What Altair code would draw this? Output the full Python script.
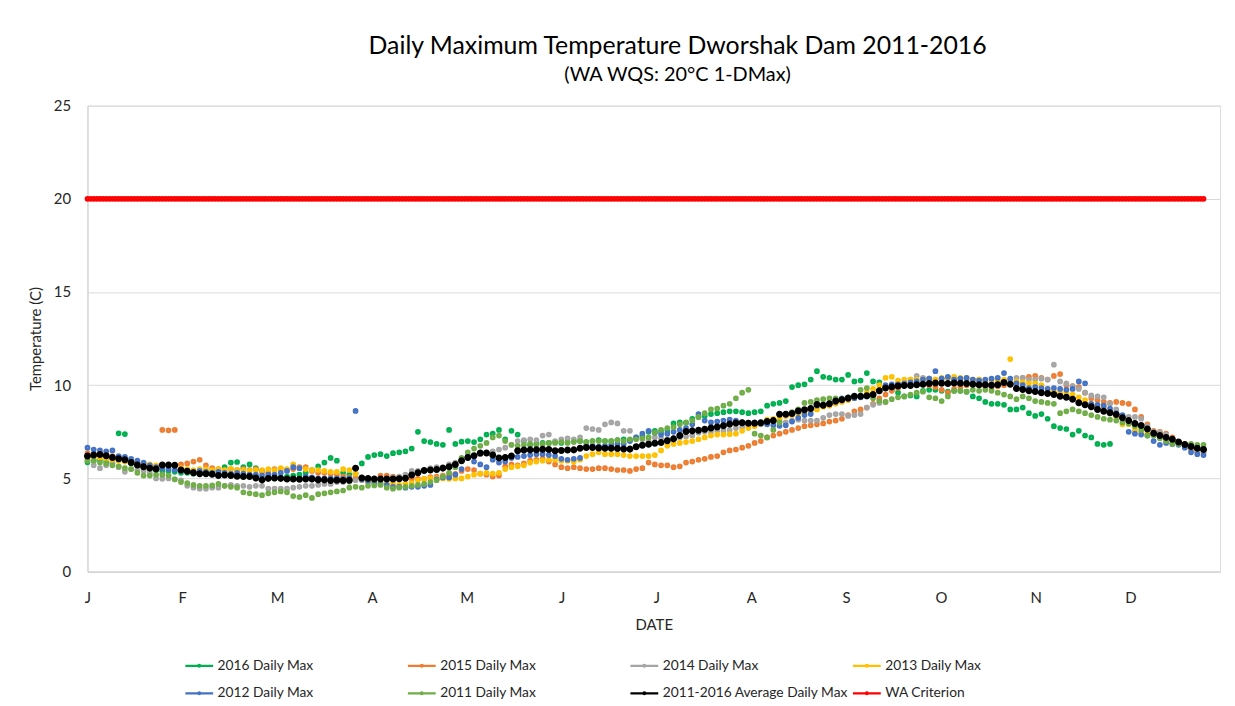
import altair as alt
import pandas as pd

# ---------------- data (every 2nd day) ----------------
DAYS = list(range(0, 360, 2))            # day of year index (0 = Jan 1)
WA_DAYS = list(range(0, 359))            # criterion drawn every day
WA_VALUE = 20.0
MONTH_LABELS = ["J", "F", "M", "A", "M", "J", "J", "A", "S", "O", "N", "D"]
MONTH_DAYS = [0, 30.42, 60.83, 91.25, 121.67, 152.08, 182.5, 212.92, 243.33, 273.75, 304.17, 334.58]

AVG = [
    6.20, 6.25, 6.28, 6.22, 6.12, 6.05, 6.00, 5.85, 5.72, 5.63, 5.55, 5.50, 5.72, 5.72, 5.70,
    5.45, 5.38, 5.30, 5.25, 5.25, 5.22, 5.15, 5.18, 5.15, 5.12, 5.10, 5.10, 5.02, 4.92, 5.00,
    5.02, 5.00, 4.97, 4.97, 4.95, 4.97, 4.97, 4.92, 4.92, 4.89, 4.90, 4.89, 4.90, 5.55, 5.02,
    5.00, 4.97, 4.97, 4.97, 4.97, 4.98, 5.01, 5.18, 5.30, 5.42, 5.45, 5.48, 5.55, 5.62, 5.75,
    5.95, 6.12, 6.22, 6.36, 6.36, 6.25, 6.10, 6.12, 6.20, 6.48, 6.52, 6.53, 6.53, 6.56, 6.55,
    6.48, 6.50, 6.52, 6.53, 6.62, 6.66, 6.66, 6.63, 6.62, 6.62, 6.60, 6.58, 6.57, 6.70, 6.78,
    6.83, 6.88, 6.92, 7.02, 7.12, 7.30, 7.52, 7.55, 7.58, 7.64, 7.70, 7.76, 7.82, 7.92, 7.97,
    7.99, 7.96, 7.96, 7.99, 8.05, 8.10, 8.44, 8.44, 8.48, 8.62, 8.68, 8.75, 8.97, 8.92, 9.00,
    9.15, 9.22, 9.30, 9.41, 9.41, 9.43, 9.50, 9.70, 9.85, 9.91, 9.96, 9.98, 9.98, 10.02, 10.05,
    10.09, 10.12, 10.10, 10.09, 10.12, 10.10, 10.09, 10.05, 10.03, 10.03, 10.00, 10.02, 10.15, 10.05, 9.82,
    9.77, 9.70, 9.66, 9.59, 9.56, 9.50, 9.41, 9.35, 9.25, 9.06, 8.95, 8.84, 8.70, 8.60, 8.52,
    8.43, 8.25, 8.10, 7.95, 7.84, 7.65, 7.42, 7.30, 7.20, 7.10, 6.95, 6.82, 6.71, 6.62, 6.55,
]

Y2016 = [
    5.86, 5.95, 6.00, 5.90, 5.85, 7.42, 7.38, 5.80, 5.70, 5.60, 5.50, 5.45, 5.40, 5.40, 5.35,
    5.30, 5.30, 5.25, 5.30, 5.30, 5.35, 5.40, 5.60, 5.85, 5.88, 5.60, 5.75, 5.55, 5.40, 5.05,
    5.00, 5.05, 5.10, 5.15, 5.20, 5.30, 5.45, 5.65, 5.85, 6.10, 5.95, 5.30, 5.20, 5.25, 5.80,
    6.15, 6.25, 6.30, 6.20, 6.35, 6.40, 6.45, 6.60, 7.50, 7.00, 6.95, 6.85, 6.80, 7.60, 6.85,
    6.97, 7.00, 6.95, 7.10, 7.35, 7.40, 7.60, 7.10, 7.55, 7.35, 7.00, 6.80, 6.85, 6.90, 6.90,
    6.95, 6.90, 6.95, 7.00, 7.00, 6.95, 7.00, 7.05, 7.00, 7.00, 7.05, 7.10, 7.05, 7.15, 7.25,
    7.50, 7.55, 7.50, 7.60, 7.95, 8.00, 7.98, 8.20, 8.30, 8.35, 8.45, 8.50, 8.55, 8.60, 8.60,
    8.55, 8.50, 8.55, 8.60, 8.90, 9.00, 9.05, 9.15, 9.90, 10.00, 10.05, 10.30, 10.75, 10.45, 10.40,
    10.30, 10.30, 10.55, 10.20, 10.25, 10.65, 10.20, 10.15, 9.90, 9.75, 9.60, 9.40, 9.45, 9.40, 9.70,
    9.75, 9.75, 9.70, 9.65, 9.70, 9.70, 9.65, 9.40, 9.30, 9.10, 9.00, 9.00, 8.95, 8.70, 8.70,
    8.80, 8.50, 8.35, 8.45, 8.20, 7.80, 7.70, 7.65, 7.35, 7.55, 7.30, 7.20, 6.85, 6.80, 6.85,
    None, None, None, None, None, None, None, None, None, None, None, None, None, None, None,
]

Y2015 = [
    6.35, 6.30, 6.25, 6.30, 6.20, 6.15, 6.05, 5.95, 5.85, 5.75, 5.70, 5.65, 7.60, 7.58, 7.60,
    5.75, 5.80, 5.90, 6.00, 5.70, 5.55, 5.50, 5.45, 5.50, 5.45, 5.50, 5.45, 5.50, 5.35, 5.30,
    5.50, 5.50, 5.45, 5.50, 5.60, 5.60, 5.40, 5.30, 5.30, 5.25, 5.20, 5.10, 5.05, 5.00, 5.00,
    5.00, 4.95, 5.15, 5.15, 5.10, 5.05, 5.00, 5.00, 4.97, 4.97, 5.07, 5.10, 5.15, 5.20, 5.24,
    5.40, 5.50, 5.45, 5.25, 5.20, 5.10, 5.15, 5.65, 5.75, 5.70, 5.80, 5.95, 6.00, 6.05, 5.90,
    5.75, 5.60, 5.55, 5.60, 5.55, 5.50, 5.50, 5.55, 5.55, 5.50, 5.45, 5.45, 5.40, 5.50, 5.55,
    5.85, 5.75, 5.70, 5.70, 5.60, 5.65, 5.85, 5.90, 6.00, 6.05, 6.15, 6.20, 6.40, 6.50, 6.55,
    6.65, 6.75, 6.90, 7.00, 7.20, 7.30, 7.40, 7.50, 7.60, 7.70, 7.80, 7.85, 7.90, 7.95, 8.05,
    8.10, 8.20, 8.40, 8.60, 8.70, 8.80, 9.00, 9.30, 9.50, 9.70, 9.85, 10.00, 10.10, 10.10, 10.05,
    10.00, 9.90, 9.75, 9.60, 9.80, 9.90, 10.00, 10.05, 10.00, 9.95, 9.90, 9.95, 10.00, 10.05, 10.10,
    10.40, 10.45, 10.50, 10.40, 10.30, 10.50, 10.60, 10.00, 9.95, 9.90, 9.60, 9.30, 9.20, 9.10, 9.05,
    9.10, 9.05, 9.00, 8.70, 8.30, 7.90, 7.55, 7.50, 7.40, 7.20, 6.90, 6.70, 6.55, 6.40, 6.40,
]

Y2014 = [
    6.00, 5.70, 5.55, 5.70, 5.80, 5.60, 5.35, 5.50, 5.45, 5.40, 5.30, 5.00, 4.98, 5.00, 4.95,
    4.90, 4.60, 4.50, 4.45, 4.45, 4.50, 4.50, 4.60, 4.65, 4.60, 4.60, 4.55, 4.60, 4.60, 4.45,
    4.45, 4.45, 4.45, 4.50, 4.55, 4.60, 4.60, 4.65, 4.70, 4.70, 4.80, 4.80, 4.82, 4.90, 4.90,
    4.90, 4.90, 4.95, 5.00, 5.05, 5.10, 5.20, 5.40, 5.40, 5.45, 5.55, 5.60, 5.60, 5.75, 5.85,
    6.00, 6.10, 6.20, 6.30, 6.35, 6.45, 6.55, 6.65, 6.80, 7.00, 7.05, 7.10, 7.05, 7.30, 7.35,
    7.00, 7.10, 7.15, 7.10, 7.20, 7.70, 7.65, 7.60, 7.90, 8.00, 7.95, 7.55, 7.55, 7.20, 7.10,
    7.00, 7.20, 7.15, 7.10, 7.15, 7.20, 7.25, 7.30, 7.45, 7.50, 7.50, 7.55, 7.55, 7.60, 7.70,
    7.75, 7.80, 7.85, 7.90, 7.95, 8.00, 8.05, 8.00, 8.10, 8.15, 8.10, 8.10, 8.10, 8.25, 8.40,
    8.45, 8.45, 8.35, 8.40, 8.45, 8.80, 8.95, 9.05, 9.10, 9.90, 10.10, 10.10, 10.30, 10.50, 10.40,
    10.35, 10.30, 10.35, 10.40, 10.30, 10.35, 10.30, 10.25, 10.30, 10.20, 10.10, 10.20, 10.25, 10.30, 10.40,
    10.40, 10.30, 10.30, 10.35, 10.30, 11.10, 10.20, 10.10, 9.95, 9.80, 9.60, 9.45, 9.40, 9.35, 9.00,
    8.70, 8.35, 8.30, 8.30, 8.20, 7.80, 7.50, 7.45, 7.35, 7.10, 6.90, 6.70, 6.60, 6.50, 6.45,
]

Y2013 = [
    6.10, 6.15, 6.10, 6.00, 6.00, 5.95, 5.90, 5.90, 5.85, 5.80, 5.75, 5.70, 5.70, 5.65, 5.70,
    5.55, 5.50, 5.45, 5.50, 5.50, 5.45, 5.50, 5.45, 5.50, 5.45, 5.45, 5.40, 5.45, 5.45, 5.50,
    5.45, 5.55, 5.50, 5.75, 5.55, 5.50, 5.45, 5.45, 5.40, 5.35, 5.35, 5.50, 5.45, 5.25, 4.95,
    4.80, 4.80, 4.80, 4.72, 4.70, 4.65, 4.70, 4.75, 4.90, 4.97, 5.00, 5.00, 5.00, 4.98, 5.00,
    5.00, 5.10, 5.20, 5.25, 5.30, 5.25, 5.30, 5.50, 5.60, 5.65, 5.70, 5.85, 5.90, 5.95, 6.00,
    6.00, 5.95, 5.95, 5.90, 6.00, 6.20, 6.30, 6.40, 6.30, 6.30, 6.30, 6.25, 6.20, 6.20, 6.20,
    6.20, 6.25, 6.50, 6.75, 6.85, 6.90, 6.95, 7.00, 7.10, 7.20, 7.30, 7.35, 7.35, 7.37, 7.40,
    7.55, 7.70, 7.80, 7.95, 8.15, 8.20, 8.20, 8.35, 8.40, 8.50, 8.50, 8.60, 8.70, 8.85, 8.90,
    9.00, 9.10, 9.20, 9.30, 9.40, 9.60, 9.80, 10.00, 10.40, 10.45, 10.25, 10.30, 10.30, 10.30, 10.30,
    10.35, 10.30, 10.40, 10.40, 10.45, 10.40, 10.40, 10.30, 10.30, 10.25, 10.30, 10.20, 10.30, 11.40, 10.20,
    10.15, 10.10, 10.10, 10.00, 9.80, 9.65, 9.60, 9.60, 9.50, 9.35, 9.20, 9.00, 8.90, 8.80, 8.60,
    8.30, 7.90, 7.90, 7.60, 7.45, 7.40, 7.30, 7.20, 7.00, 6.90, 6.95, 6.85, 6.65, 6.60, 6.55,
]

Y2012 = [
    6.65, 6.55, 6.50, 6.45, 6.50, 6.20, 6.15, 6.05, 5.95, 5.85, 5.70, 5.60, 5.55, 5.50, 5.45,
    5.40, 5.40, 5.35, 5.40, 5.35, 5.30, 5.35, 5.30, 5.25, 5.30, 5.25, 5.20, 5.20, 5.15, 5.20,
    5.20, 5.30, 5.40, 5.60, 5.55, 5.10, 5.05, 5.00, 5.00, 5.00, 5.00, 4.98, 5.00, 8.62, 4.95,
    4.85, 4.75, 4.70, 4.65, 4.55, 4.55, 4.50, 4.55, 4.55, 4.60, 4.65, 4.95, 5.05, 5.05, 5.20,
    5.50, 6.20, 5.90, 5.75, 5.60, 6.00, 5.85, 5.90, 6.10, 6.15, 6.20, 6.25, 6.30, 6.30, 6.25,
    6.20, 6.05, 6.00, 6.05, 6.10, 6.75, 6.75, 6.70, 6.75, 6.80, 6.85, 6.85, 7.00, 7.20, 7.40,
    7.55, 7.45, 7.35, 7.40, 7.50, 7.60, 7.70, 7.90, 8.45, 8.10, 8.00, 8.05, 8.10, 8.15, 8.10,
    8.00, 7.99, 8.00, 7.95, 7.90, 7.85, 7.82, 7.85, 8.05, 8.25, 8.40, 8.45, 8.90, 8.95, 9.00,
    9.10, 9.30, 9.35, 9.30, 9.35, 9.40, 9.45, 9.70, 10.00, 10.05, 10.05, 10.10, 10.15, 10.20, 10.30,
    10.35, 10.75, 10.35, 10.45, 10.30, 10.35, 10.40, 10.30, 10.25, 10.30, 10.35, 10.40, 10.65, 10.35, 10.10,
    10.00, 9.85, 9.90, 9.85, 9.80, 9.85, 9.80, 9.75, 9.80, 10.20, 10.10, 9.00, 8.95, 8.90, 8.75,
    8.50, 8.40, 7.50, 7.40, 7.35, 7.30, 7.00, 6.80, 6.90, 6.85, 6.80, 6.65, 6.40, 6.30, 6.25,
]

Y2011 = [
    5.95, 5.95, 5.85, 5.80, 5.70, 5.65, 5.55, 5.50, 5.30, 5.15, 5.15, 5.20, 5.20, 5.15, 4.95,
    4.80, 4.75, 4.65, 4.60, 4.60, 4.62, 4.70, 4.60, 4.55, 4.50, 4.25, 4.20, 4.15, 4.10, 4.20,
    4.25, 4.30, 4.25, 4.05, 4.00, 4.10, 3.95, 4.15, 4.20, 4.25, 4.30, 4.35, 4.50, 4.55, 4.50,
    4.60, 4.62, 4.65, 4.50, 4.45, 4.50, 4.55, 4.60, 4.65, 4.70, 4.80, 4.90, 5.10, 5.30, 5.60,
    6.10, 6.40, 6.60, 6.75, 6.90, 7.20, 7.30, 7.00, 6.80, 6.75, 6.80, 6.85, 6.80, 6.85, 6.90,
    6.90, 6.95, 6.90, 6.95, 7.00, 6.95, 7.00, 7.00, 7.00, 7.00, 7.05, 7.00, 7.10, 7.10, 7.15,
    7.20, 7.45, 7.60, 7.70, 7.75, 7.90, 8.00, 8.10, 8.30, 8.50, 8.70, 8.75, 8.90, 9.00, 9.30,
    9.60, 9.75, 7.40, 7.30, 7.20, 7.60, 8.00, 8.45, 8.55, 8.70, 9.05, 9.10, 9.20, 9.25, 9.30,
    9.30, 9.25, 9.35, 9.40, 9.75, 9.85, 9.30, 9.15, 9.10, 9.25, 9.35, 9.40, 9.50, 9.60, 9.65,
    9.35, 9.30, 9.15, 9.40, 9.70, 9.70, 9.65, 9.75, 9.70, 9.75, 9.70, 9.60, 9.50, 9.40, 9.25,
    9.40, 9.30, 9.15, 9.10, 9.05, 9.00, 8.50, 8.60, 8.70, 8.60, 8.50, 8.40, 8.30, 8.20, 8.15,
    8.10, 8.00, 7.95, 7.80, 7.60, 7.30, 7.30, 7.15, 7.00, 6.85, 6.85, 6.80, 6.85, 6.80, 6.80,
]

SERIES_NAMES = [
    "2016 Daily Max", "2015 Daily Max", "2014 Daily Max", "2013 Daily Max",
    "2012 Daily Max", "2011 Daily Max", "2011-2016 Average Daily Max", "WA Criterion",
]
SERIES_COLORS = ["#00B050", "#ED7D31", "#A5A5A5", "#FFC000",
                 "#4472C4", "#70AD47", "#000000", "#FF0000"]

# ---------------- long tables ----------------
rows = []
for name, vals in zip(SERIES_NAMES[:6], [Y2016, Y2015, Y2014, Y2013, Y2012, Y2011]):
    for d, v in zip(DAYS, vals):
        if v is not None:
            rows.append({"day": d, "temp": v, "series": name})
df_years = pd.DataFrame(rows)
df_avg = pd.DataFrame({"day": DAYS, "temp": AVG, "series": SERIES_NAMES[6]})
df_wa = pd.DataFrame({"day": WA_DAYS, "temp": [WA_VALUE] * len(WA_DAYS), "series": SERIES_NAMES[7]})

FONT = "Lato"
TXT = "#262626"

month_expr = "[" + ",".join("'%s'" % m for m in MONTH_LABELS) + "][round(datum.value / 30.4167)]"
LEGEND_SYMBOL = "M-1,0H1M0.07,0A0.07,0.07,0,1,1,-0.07,0A0.07,0.07,0,1,1,0.07,0"

x_enc = alt.X(
    "day:Q",
    scale=alt.Scale(domain=[0, 363.3], nice=False, zero=False),
    axis=alt.Axis(
        values=MONTH_DAYS, labelExpr=month_expr, title="DATE",
        grid=False, ticks=False, tickSize=0, labelFlush=False, labelOverlap=False,
        domainColor="#D0D0D0", labelFont=FONT, labelFontSize=15, labelColor=TXT,
        labelPadding=19, titleFont=FONT, titleFontSize=15, titleFontWeight="normal",
        titleColor=TXT, titlePadding=12,
    ),
)
y_enc = alt.Y(
    "temp:Q",
    scale=alt.Scale(domain=[0, 25], nice=False),
    axis=alt.Axis(
        values=[0, 5, 10, 15, 20, 25], title="Temperature (C)",
        grid=True, gridColor="#D9D9D9", ticks=False, tickSize=0,
        domainColor="#D0D0D0", labelFont=FONT, labelFontSize=15, labelColor=TXT,
        labelPadding=17, titleFont=FONT, titleFontSize=15, titleFontWeight="normal",
        titleColor=TXT, titlePadding=10,
    ),
)
color_enc = alt.Color(
    "series:N",
    scale=alt.Scale(domain=SERIES_NAMES, range=SERIES_COLORS),
    sort=SERIES_NAMES,
    legend=alt.Legend(
        title=None, orient="none", legendX=97, legendY=548, columns=4,
        direction="horizontal", gridAlign="all", symbolType=LEGEND_SYMBOL,
        symbolSize=784, symbolStrokeWidth=2.2, labelFont=FONT, labelFontSize=13.85,
        labelColor=TXT, labelOffset=3, labelLimit=400, columnPadding=0,
        rowPadding=5, padding=0,
    ),
)

years = alt.Chart(df_years).mark_point(
    filled=False, shape="circle", size=10, strokeWidth=2.6, opacity=1
).encode(x=x_enc, y=y_enc, color=color_enc)

avg = alt.Chart(df_avg).mark_point(
    filled=False, shape="circle", size=12, strokeWidth=3.6, opacity=1
).encode(x=x_enc, y=y_enc, color=color_enc)

wa = alt.Chart(df_wa).mark_point(
    filled=False, shape="circle", size=10, strokeWidth=2.6, opacity=1
).encode(x=x_enc, y=y_enc, color=color_enc)

chart = alt.layer(years, avg, wa).properties(
    width=1140,
    height=469,
    padding={"left": 80, "top": 96, "right": 7, "bottom": 130},
    autosize=alt.AutoSizeParams(type="none"),
    title=alt.TitleParams(
        text="Daily Maximum Temperature Dworshak Dam 2011-2016",
        subtitle="(WA WQS: 20°C 1-DMax)",
        font=FONT, fontSize=25, fontWeight="normal", color="#000000",
        subtitleFont=FONT, subtitleFontSize=20, subtitleColor="#000000",
        subtitlePadding=6, anchor="middle", dx=24, offset=14,
    ),
).configure_view(
    stroke="#D9D9D9", strokeWidth=1
).configure(background="white")

chart.save("out.html", embed_options={"renderer": "svg", "actions": False})
